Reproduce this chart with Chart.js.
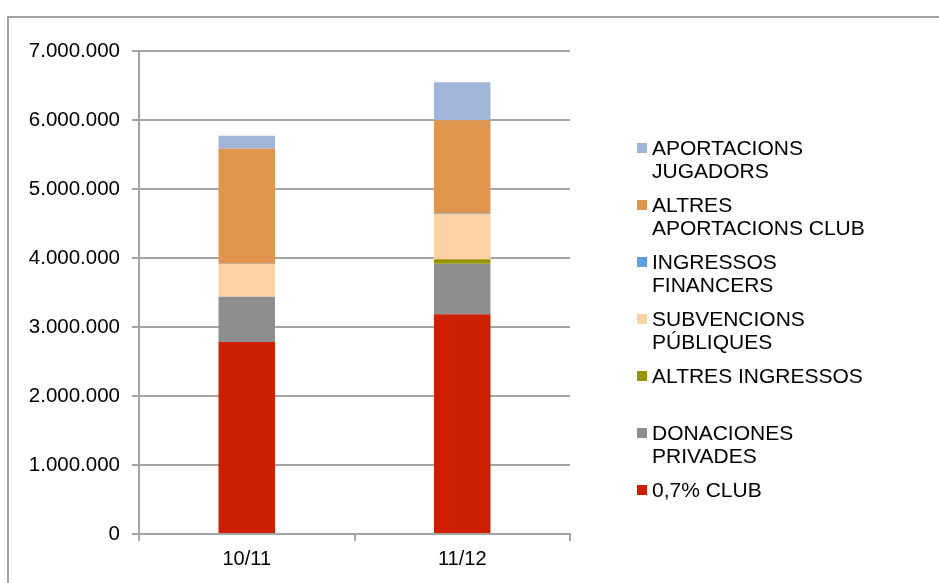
<!DOCTYPE html>
<html>
<head>
<meta charset="utf-8">
<script src="https://cdn.jsdelivr.net/npm/chart.js@4/dist/chart.umd.min.js"></script>
<style>
  html, body { margin: 0; padding: 0; background: #fff; }
  #wrap { width: 939px; height: 583px; position: relative; }
</style>
</head>
<body>
<div id="wrap"><canvas id="chart" width="939" height="583"></canvas></div>
<script>
// seasons
const seasons = ['10/11', '11/12'];

// series (bottom of the stack first)
const club07 = [2783000, 3184000];
const donacionesPrivades = [656000, 733000];
const altresIngressos = [0, 64000];
const subvencionsPubliques = [474000, 657000];
const ingressosFinancers = [4000, 6000];
const altresAportacionsClub = [1667000, 1352000];
const aportacionsJugadors = [188000, 551000];

const yTicks = [0, 1000000, 2000000, 3000000, 4000000, 5000000, 6000000, 7000000];

const series = [
  { lines: ['0,7% CLUB'], data: club07, color: '#cd1f00' },
  { lines: ['DONACIONES', 'PRIVADES'], data: donacionesPrivades, color: '#8e8e8e' },
  { lines: ['ALTRES INGRESSOS'], data: altresIngressos, color: '#979400' },
  { lines: ['SUBVENCIONS', 'PÚBLIQUES'], data: subvencionsPubliques, color: '#fdd3a5' },
  { lines: ['INGRESSOS', 'FINANCERS'], data: ingressosFinancers, color: '#5f9fe0' },
  { lines: ['ALTRES', 'APORTACIONS CLUB'], data: altresAportacionsClub, color: '#e0954e' },
  { lines: ['APORTACIONS', 'JUGADORS'], data: aportacionsJugadors, color: '#a1b5d9' }
];

const FONT = '"Liberation Sans", Arial, sans-serif';
const fmt = v => String(v).replace(/\B(?=(\d{3})+(?!\d))/g, '.');

// outer frame (top + left edge, runs off the picture)
const framePlugin = {
  id: 'frame',
  beforeDraw(chart) {
    const c = chart.ctx;
    c.save();
    c.strokeStyle = '#a0a0a0';
    c.lineWidth = 2;
    c.beginPath();
    c.moveTo(8, 583);
    c.lineTo(8, 17);
    c.lineTo(939, 17);
    c.stroke();
    c.restore();
  }
};

// right side legend, multi-line labels, top = last series
const sideLegend = {
  id: 'sideLegend',
  afterDraw(chart) {
    const c = chart.ctx;
    c.save();
    c.font = '21px ' + FONT;
    c.textBaseline = 'middle';
    c.fillStyle = '#000';
    let y = 149;
    const items = chart.data.datasets.slice().reverse();
    items.forEach(ds => {
      c.fillStyle = ds.backgroundColor;
      c.fillRect(637, y - 6, 10, 10);
      c.fillStyle = '#000';
      ds.lines.forEach((t, i) => c.fillText(t, 652, y + i * 23.5));
      y += 57;
    });
    c.restore();
  }
};

new Chart(document.getElementById('chart'), {
  type: 'bar',
  data: {
    labels: seasons,
    datasets: series.map(s => ({
      label: s.lines.join(' '),
      lines: s.lines,
      data: s.data,
      backgroundColor: s.color,
      borderWidth: 0,
      barPercentage: 0.262,
      categoryPercentage: 1
    }))
  },
  options: {
    responsive: false,
    animation: false,
    layout: { padding: { left: 0, right: 369, top: 51, bottom: 0 } },
    plugins: {
      legend: { display: false },
      tooltip: { enabled: false }
    },
    scales: {
      x: {
        stacked: true,
        grid: { offset: true, drawOnChartArea: false, color: '#a5a5a5', lineWidth: 2, tickLength: 7 },
        border: { color: '#a5a5a5', width: 2 },
        ticks: { color: '#000', font: { family: FONT, size: 20 }, padding: 6 },
        afterFit(s) { s.height = 49; }
      },
      y: {
        stacked: true,
        min: 0,
        max: 7000000,
        afterBuildTicks(s) { s.ticks = yTicks.map(v => ({ value: v })); },
        grid: { color: '#a5a5a5', lineWidth: 2, tickLength: 7 },
        border: { color: '#a5a5a5', width: 2 },
        ticks: { color: '#000', font: { family: FONT, size: 20.5 }, padding: 12, callback: v => fmt(v) },
        afterFit(s) { s.width = 139; }
      }
    }
  },
  plugins: [framePlugin, sideLegend]
});
</script>
</body>
</html>
